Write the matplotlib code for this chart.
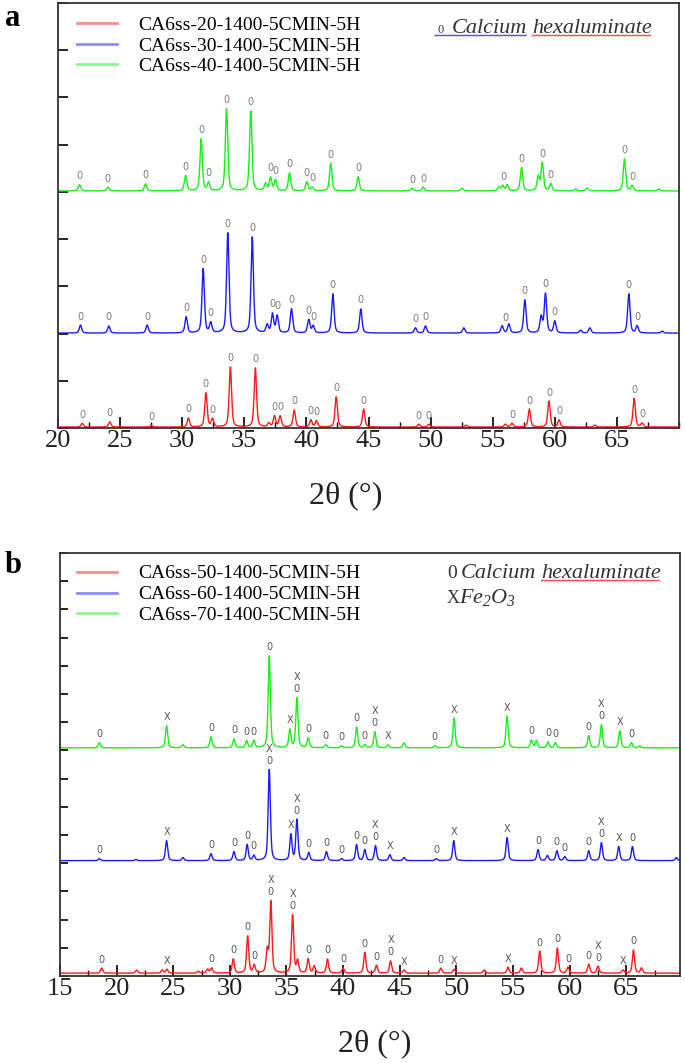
import numpy as np
import matplotlib
matplotlib.use('Agg')
import matplotlib.pyplot as plt
from matplotlib.ticker import MultipleLocator
from matplotlib.lines import Line2D
from matplotlib.transforms import IdentityTransform

plt.rcParams['font.family'] = ['Liberation Serif', 'DejaVu Serif']
plt.rcParams['mathtext.fontset'] = 'custom'
plt.rcParams['mathtext.it'] = 'Liberation Serif:italic'
plt.rcParams['mathtext.rm'] = 'Liberation Serif:italic'

# ---------------- panel a : peak positions (2theta) and heights (a.u.) ----------------
a_names = ['CA6ss-20-1400-5CMIN-5H', 'CA6ss-30-1400-5CMIN-5H', 'CA6ss-40-1400-5CMIN-5H']
a_offsets = [2, 201, 502]

a20_pos = [21.95, 24.17, 27.51, 30.50, 31.91, 32.44, 33.88, 35.89, 36.98, 37.43, 37.89, 39.02, 40.36,
           40.81, 42.40, 44.61, 49.05, 49.86, 52.85, 56.02, 56.55, 57.95, 59.53, 60.34, 63.23, 66.39, 67.03]
a20_h = [8, 11, 4, 19, 72, 17, 127, 125, 8, 23, 23, 36, 15,
         13, 64, 38, 6, 6, 4, 6, 8, 38, 55, 15, 4, 61, 8]

a30_pos = [21.81, 24.09, 27.18, 30.32, 31.69, 32.30, 33.67, 35.64, 36.84, 37.27, 37.65, 38.80, 40.19, 40.55,
           42.13, 44.38, 48.78, 49.59, 52.67, 55.76, 56.30, 57.59, 58.90, 59.25, 60.00, 62.07, 62.82, 65.96,
           66.63, 68.65]
a30_h = [17, 15, 17, 34, 136, 21, 212, 203, 17, 40, 36, 51, 28, 15,
         83, 51, 11, 15, 11, 15, 19, 70, 34, 83, 25, 6, 11, 83,
         15, 4]

a40_pos = [21.73, 24.01, 27.05, 30.27, 31.53, 32.12, 33.57, 35.52, 36.71, 37.11, 37.51, 38.64, 40.03, 40.47,
           41.96, 44.17, 48.52, 49.40, 52.54, 55.49, 55.80, 56.17, 57.32, 58.66, 58.99, 59.68, 61.67, 62.60,
           65.61, 66.23, 68.37]
a40_h = [13, 8, 15, 32, 110, 17, 174, 169, 15, 28, 23, 38, 19, 8,
         59, 30, 6, 8, 6, 8, 11, 13, 49, 30, 59, 15, 4, 6,
         68, 11, 4]

# "0" = calcium hexaluminate markers
a20_lab = [21.95, 24.17, 27.51, 30.50, 31.91, 32.44, 33.88, 35.89, 37.43, 37.89, 39.02, 40.36, 40.81,
           42.40, 44.61, 49.05, 49.86, 56.55, 57.95, 59.53, 60.34, 66.39, 67.03]
a30_lab = [21.81, 24.09, 27.18, 30.32, 31.69, 32.30, 33.67, 35.64, 37.27, 37.65, 38.80, 40.19, 40.55,
           42.13, 44.38, 48.78, 49.59, 56.00, 57.59, 59.25, 60.00, 65.96, 66.63]
a40_lab = [21.73, 24.01, 27.05, 30.27, 31.53, 32.12, 33.57, 35.52, 37.11, 37.51, 38.64, 40.03, 40.47,
           41.96, 44.17, 48.52, 49.40, 55.90, 57.32, 58.99, 59.68, 65.61, 66.23]

# ---------------- panel b ----------------
b_names = ['CA6ss-50-1400-5CMIN-5H', 'CA6ss-60-1400-5CMIN-5H', 'CA6ss-70-1400-5CMIN-5H']
b_offsets = [10, 409, 809]

b50_pos = [18.68, 21.77, 24.03, 24.44, 27.21, 28.03, 28.39, 30.30, 31.57, 32.15, 33.30, 33.62, 35.54,
           35.98, 36.92, 37.45, 38.62, 40.00, 41.92, 42.95, 44.19, 45.39, 48.63, 49.80, 52.45, 54.57,
           55.74, 57.36, 58.92, 59.86, 61.69, 62.51, 64.72, 65.64, 66.35]
b50_h = [18, 11, 11, 14, 7, 14, 18, 50, 131, 28, 80, 252, 206,
         43, 50, 25, 50, 18, 74, 28, 43, 11, 18, 14, 11, 21,
         18, 78, 89, 21, 32, 25, 11, 82, 18]

b60_pos = [18.47, 21.71, 24.41, 25.86, 28.33, 30.36, 31.53, 32.12, 33.48, 35.39, 35.92, 36.97, 38.53,
           39.86, 41.19, 41.92, 42.86, 44.13, 45.39, 48.24, 49.77, 54.48, 57.21, 58.04, 58.88, 59.57,
           61.69, 62.81, 64.34, 65.55, 69.43]
b60_h = [7, 4, 71, 11, 25, 32, 57, 18, 323, 92, 145, 28, 32,
         7, 57, 39, 53, 21, 11, 7, 71, 82, 39, 18, 35, 14,
         35, 64, 50, 50, 11]

b70_pos = [18.47, 24.41, 25.86, 28.33, 30.36, 31.48, 32.12, 33.48, 35.30, 35.92, 36.92, 38.48, 39.86,
           41.19, 41.92, 42.80, 43.98, 45.39, 48.10, 49.80, 54.48, 56.63, 57.07, 58.10, 58.75, 61.69,
           62.81, 64.43, 65.46, 66.19]
b70_h = [18, 78, 11, 39, 32, 25, 25, 326, 64, 177, 35, 11, 7,
         74, 11, 57, 11, 18, 7, 106, 113, 28, 25, 21, 18, 43,
         82, 60, 18, 7]

# markers: 0 = calcium hexaluminate, X = Fe2O3
b50_lab = [(18.68, '0'), (24.44, 'X'), (28.39, '0'), (30.30, '0'), (31.57, '0'), (32.15, '0'),
           (33.62, 'X\n0'), (35.54, 'X\n0'), (36.92, '0'), (38.62, '0'), (40.00, '0'), (41.92, '0'),
           (42.95, '0'), (44.19, 'X\n0'), (45.39, 'X'), (48.63, '0'), (49.80, 'X'), (54.57, 'X'),
           (57.36, '0'), (58.92, '0'), (59.86, '0'), (61.69, '0'), (62.51, 'X\n0'), (64.72, 'X'),
           (65.64, '0')]
b60_lab = [(18.47, '0'), (24.41, 'X'), (28.33, '0'), (30.36, '0'), (31.53, '0'), (32.12, '0'),
           (33.48, 'X\n0'), (35.39, 'X'), (35.92, 'X\n0'), (36.97, '0'), (38.53, '0'), (39.86, '0'),
           (41.19, '0'), (41.92, '0'), (42.86, 'X\n0'), (44.13, 'X'), (48.24, '0'), (49.77, 'X'),
           (54.48, 'X'), (57.21, '0'), (58.88, '0'), (59.57, '0'), (61.69, '0'), (62.81, 'X\n0'),
           (64.34, 'X'), (65.55, '0')]
b70_lab = [(18.47, '0'), (24.41, 'X'), (28.33, '0'), (30.36, '0'), (31.48, '0'), (32.12, '0'),
           (33.48, '0'), (35.30, 'X'), (35.92, 'X\n0'), (36.92, '0'), (38.48, '0'), (39.86, '0'),
           (41.19, '0'), (41.92, '0'), (42.80, 'X\n0'), (43.98, 'X'), (48.10, '0'), (49.80, 'X'),
           (54.48, 'X'), (56.63, '0'), (58.10, '0'), (58.75, '0'), (61.69, '0'), (62.81, 'X\n0'),
           (64.43, 'X'), (65.46, '0')]

colors = ['#ff1a1a', '#1a1aff', '#1aee1a']
W, H = 685, 1063


def profile(x, pos, hts, fwhm=0.23, eta=0.5):
    # pseudo-Voigt peaks
    y = np.zeros_like(x)
    for p, h in zip(pos, hts):
        d = (x - p) / (fwhm / 2)
        y += h * (eta / (1 + d ** 2) + (1 - eta) * np.exp(-np.log(2) * d ** 2))
    return y


def mark(ax, x, y, labs, color):
    for p, t in labs:
        m = (x > p - 0.2) & (x < p + 0.2)
        ax.annotate(t, (p, y[m].max()), xytext=(0, 2.5), textcoords='offset points',
                    ha='center', va='bottom', fontsize=7, color=color,
                    family=['Liberation Sans Narrow', 'DejaVu Sans'], linespacing=1.25)


def style(ax, xlim, ylim, ylen, labx):
    ax.xaxis.set_major_locator(MultipleLocator(5))
    ax.xaxis.set_minor_locator(MultipleLocator(2.5))
    ax.yaxis.set_major_locator(MultipleLocator(100))
    ax.set_xticks(np.arange(xlim[0], xlim[1] - 1, 5))
    ax.set_xlim(*xlim)
    ax.set_ylim(*ylim)
    ax.tick_params(axis='x', which='major', direction='in', length=8, width=1.2, labelsize=19,
                   pad=1.5, labelcolor='#222222')
    ax.tick_params(axis='x', which='minor', direction='in', length=4, width=1.0)
    ax.tick_params(axis='y', which='major', direction='in', length=ylen, width=1.2, labelleft=False)
    for s in ax.spines.values():
        s.set_linewidth(1.3)
        s.set_color('#333333')
    ax.set_xlabel('2θ (°)', fontsize=23, color='#222222')
    ax.xaxis.set_label_coords(labx, -0.125)


fig = plt.figure(figsize=(W / 100, H / 100), dpi=100)

# panel a
ax1 = fig.add_axes([58 / W, 1 - 428 / H, 621 / W, 425 / H])
xa = np.linspace(20, 70, 4000)
for pos, h, off, lab, c, n in zip([a20_pos, a30_pos, a40_pos], [a20_h, a30_h, a40_h], a_offsets,
                                  [a20_lab, a30_lab, a40_lab], colors, a_names):
    y = profile(xa, pos, h) + off
    ax1.plot(xa, y, color=c, lw=1.0, label=n)
    mark(ax1, xa, y, [(p, '0') for p in lab], '#7a7a7a')
style(ax1, (20, 70), (0, 900), 7, 0.464)
leg = ax1.legend(loc='upper left', bbox_to_anchor=(0.031, 0.968), frameon=False, fontsize=14,
                 handlelength=2.05, handletextpad=1.1, labelspacing=0.14, borderpad=0, borderaxespad=0)
for l in leg.get_lines():
    l.set_linewidth(2)
    l.set_alpha(0.5)

# panel b
ax2 = fig.add_axes([60 / W, 1 - 976 / H, 620 / W, 423 / H])
xb = np.linspace(15, 70, 4400)
for pos, h, off, lab, c, n in zip([b50_pos, b60_pos, b70_pos], [b50_h, b60_h, b70_h], b_offsets,
                                  [b50_lab, b60_lab, b70_lab], colors, b_names):
    y = profile(xb, pos, h) + off
    ax2.plot(xb, y, color=c, lw=1.0, label=n)
    mark(ax2, xb, y, lab, '#555555')
style(ax2, (15, 69.75), (0, 1500), 6, 0.508)
leg2 = ax2.legend(loc='upper left', bbox_to_anchor=(0.027, 0.972), frameon=False, fontsize=14,
                  handlelength=2.05, handletextpad=1.1, labelspacing=0.17, borderpad=0, borderaxespad=0)
for l in leg2.get_lines():
    l.set_linewidth(2)
    l.set_alpha(0.5)

# panel letters
fig.text(5 / W, 1 - 26 / H, 'a', fontsize=22, fontweight='bold', va='baseline')
fig.text(5 / W, 1 - 573 / H, 'b', fontsize=22, fontweight='bold', va='baseline')

# phase keys
k0 = fig.text(437 / W, 1 - 33 / H, '0', fontsize=9, color='#333333', va='baseline')
k1 = fig.text(452 / W, 1 - 33 / H, 'Calcium', fontsize=16, style='italic', color='#333333', va='baseline')
k2 = fig.text(536 / W, 1 - 33 / H, 'hexaluminate', fontsize=16, style='italic', color='#333333', va='baseline')
fig.text(447 / W, 1 - 578 / H, '0', fontsize=14, color='#333333', va='baseline')
k4 = fig.text(461 / W, 1 - 578 / H, 'Calcium', fontsize=16, style='italic', color='#333333', va='baseline')
k3 = fig.text(552 / W, 1 - 578 / H, 'hexaluminate', fontsize=16, style='italic', color='#333333', va='baseline')
fig.text(447 / W, 1 - 603 / H, 'X', fontsize=13, color='#333333', va='baseline')
fig.text(459 / W, 1 - 603 / H, r'$Fe_2O_3$', fontsize=16, color='#333333', va='baseline')

# keep a normal word gap between the two words
fig.canvas.draw()
r = fig.canvas.get_renderer()
k2.set_x((k1.get_window_extent(r).x1 + 5) / W)
k3.set_x((k4.get_window_extent(r).x1 + 5) / W)
fig.canvas.draw()


def squiggle(x0, x1, ybase, color):
    # spell-check style wavy underline
    xs = np.arange(x0, x1, 1.6)
    ys = ybase - 3 + 1.0 * (np.arange(len(xs)) % 2)
    fig.add_artist(Line2D(xs, ys, transform=IdentityTransform(), color=color, lw=0.8))


e0 = k0.get_window_extent(r)
e1 = k1.get_window_extent(r)
e2 = k2.get_window_extent(r)
e3 = k3.get_window_extent(r)
base_a = H - 33
base_b = H - 578
squiggle(e0.x0 - 2, e1.x1, base_a, '#3a3aff')
squiggle(e2.x0, e2.x1, base_a, '#ff3a3a')
squiggle(e3.x0, e3.x1, base_b, '#ff3a3a')

plt.savefig('out.png', dpi=100)
